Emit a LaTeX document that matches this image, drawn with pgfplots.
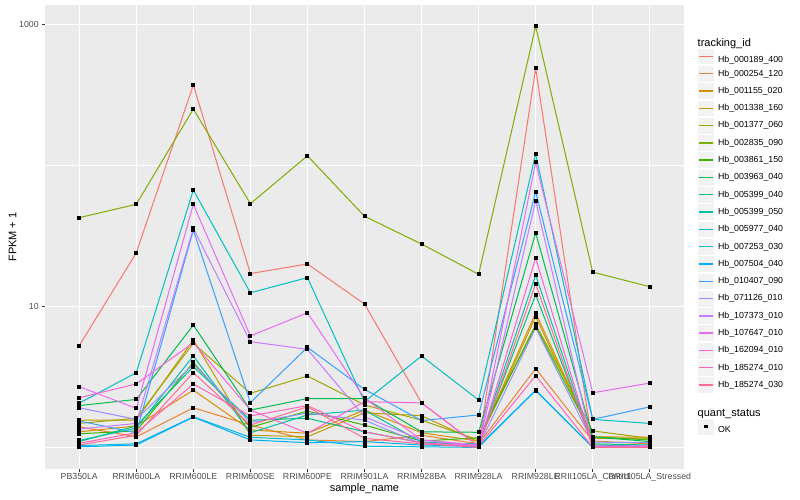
\documentclass[border=0pt]{standalone}
\usepackage{fontspec}
\setmainfont{Liberation Sans}
\usepackage{pgfplots}
\usepackage{pgfplotstable}
\pgfplotsset{compat=1.18}

% ggplot2 hue palette, 20 levels
\definecolor{c1}{HTML}{F8766D}
\definecolor{c2}{HTML}{EA8331}
\definecolor{c3}{HTML}{D89000}
\definecolor{c4}{HTML}{C09B00}
\definecolor{c5}{HTML}{A3A500}
\definecolor{c6}{HTML}{7CAE00}
\definecolor{c7}{HTML}{39B600}
\definecolor{c8}{HTML}{00BB4E}
\definecolor{c9}{HTML}{00BF7D}
\definecolor{c10}{HTML}{00C1A3}
\definecolor{c11}{HTML}{00BFC4}
\definecolor{c12}{HTML}{00BAE0}
\definecolor{c13}{HTML}{00B0F6}
\definecolor{c14}{HTML}{35A2FF}
\definecolor{c15}{HTML}{9590FF}
\definecolor{c16}{HTML}{C77CFF}
\definecolor{c17}{HTML}{E76BF3}
\definecolor{c18}{HTML}{FA62DB}
\definecolor{c19}{HTML}{FF62BC}
\definecolor{c20}{HTML}{FF6C91}
\definecolor{panel}{HTML}{EBEBEB}
\definecolor{keybg}{HTML}{F2F2F2}
\definecolor{grey30}{HTML}{4D4D4D}
\definecolor{grey20}{HTML}{333333}

% FPKM + 1, one row per sample, one column per tracking_id
\pgfplotstableread{
idx s1   s2   s3   s4   s5   s6   s7   s8   s9   s10  s11   s12  s13  s14  s15  s16  s17  s18  s19  s20
0   5.27 1.40 1.29 1.56 1.48 42.6 1.25 1.98 1.10 1.12 2.06  1.03 1.01 1.54 1.91 1.35 2.70 2.25 1.07 1.04
1   24.0 1.19 1.42 1.56 1.61 53.0 1.31 2.19 1.42 1.37 3.39  1.06 1.04 1.27 1.58 1.48 1.89 2.82 1.27 1.22
2   372  1.91 2.55 5.78 5.47 251  4.01 7.38 3.74 4.45 66.9  1.65 1.64 34.8 3.90 35.8 53.0 5.53 2.82 3.39
3   17.1 1.44 1.33 1.22 2.42 53.5 1.39 1.84 1.56 1.27 12.5  1.18 1.13 2.08 1.50 5.62 6.17 1.84 1.67 1.44
4   20.0 1.13 1.26 1.19 3.21 117  1.81 2.22 1.61 1.70 16.0  1.13 1.08 5.13 1.75 4.96 9.02 1.26 1.98 1.94
5   10.4 1.10 1.84 1.76 2.00 43.6 1.44 2.22 1.29 1.84 2.11  1.02 1.10 2.58 1.56 1.65 2.24 2.11 1.29 1.16
6   2.07 1.22 1.27 1.68 1.56 27.7 1.11 1.29 1.08 1.09 4.45  1.01 1.04 1.55 1.06 1.13 1.13 2.07 1.08 1.06
7   1.02 1.06 1.11 1.09 1.13 16.9 1.17 1.28 1.06 1.04 2.17  1.00 1.02 1.70 1.02 1.02 1.04 1.02 1.02 1.00
8   488  3.62 8.98 8.45 7.47 969  7.26 33.2 12.1 16.7 120.5 2.55 2.53 65.1 7.06 56.2 105  22.0 3.23 14.5
9   1.02 1.11 1.19 1.16 1.31 17.5 1.19 1.19 1.06 1.04 1.58  1.00 1.00 1.58 1.09 1.02 2.44 1.02 1.00 1.00
10  1.00 1.06 1.18 1.15 1.16 13.8 1.13 1.10 1.04 1.02 1.48  1.00 1.00 1.94 1.08 1.02 2.86 1.02 1.00 1.00
}\fpkm

\begin{document}
\begin{tikzpicture}
\begin{axis}[
    scale only axis,
    width=639bp, height=464bp,
    ymode=log,
    ymin=0.703, ymax=1373,
    xmin=-0.6, xmax=10.6,
    xtick={0,...,10},
    xticklabels={PB350LA, RRIM600LA, RRIM600LE, RRIM600SE, RRIM600PE, RRIM901LA,
                 RRIM928BA, RRIM928LA, RRIM928LE, RRII105LA\_Control, RRII105LA\_Stressed},
    ytick={10,1000}, yticklabels={10,1000},
    minor ytick={1,100},
    xmajorgrids, ymajorgrids, yminorgrids,
    major grid style={white, line width=1.07bp},
    minor grid style={white, line width=0.53bp},
    axis background/.style={fill=panel},
    axis line style={draw=none},
    tick align=outside, xtick pos=left, ytick pos=left,
    major tick length=2.75bp, minor tick length=0pt,
    tick style={grey20, line width=1.07bp},
    ticklabel style={font=\fontsize{8.8bp}{10bp}\selectfont, text=grey30},
    xticklabel style={yshift=2bp},
    xlabel={sample\_name}, ylabel={FPKM + 1},
    xlabel shift=-5bp, ylabel shift=-4bp,
    label style={font=\fontsize{11bp}{13bp}\selectfont},
    every axis plot/.append style={line width=1bp, mark=square*, mark size=1.5bp,
        mark options={black, fill=black, solid}},
    legend cell align=left,
    legend style={at={(1,1)}, anchor=north west, xshift=13bp, yshift=-33bp,
        draw=none, fill=none, inner sep=0pt, row sep=0pt, column sep=3.5bp,
        font=\fontsize{8.8bp}{10bp}\selectfont, nodes={inner sep=0pt}},
    legend image code/.code={
        \filldraw[fill=keybg, draw=white, line width=0.5bp] (0bp,-8.4bp) rectangle (16.8bp,8.4bp);
        \draw[#1, line width=1.4bp] (1.5bp,0bp) -- (15.3bp,0bp);},
]
\addlegendimage{empty legend}
\addlegendentry{\hspace*{-20.3bp}\fontsize{11bp}{13bp}\selectfont tracking\_id}
\addplot[c1]  table[x=idx, y=s1]  {\fpkm}; \addlegendentry{\rule{0pt}{13bp}Hb\_000189\_400}
\addplot[c2]  table[x=idx, y=s2]  {\fpkm}; \addlegendentry{Hb\_000254\_120}
\addplot[c3]  table[x=idx, y=s3]  {\fpkm}; \addlegendentry{Hb\_001155\_020}
\addplot[c4]  table[x=idx, y=s4]  {\fpkm}; \addlegendentry{Hb\_001338\_160}
\addplot[c5]  table[x=idx, y=s5]  {\fpkm}; \addlegendentry{Hb\_001377\_060}
\addplot[c6]  table[x=idx, y=s6]  {\fpkm}; \addlegendentry{Hb\_002835\_090}
\addplot[c7]  table[x=idx, y=s7]  {\fpkm}; \addlegendentry{Hb\_003861\_150}
\addplot[c8]  table[x=idx, y=s8]  {\fpkm}; \addlegendentry{Hb\_003963\_040}
\addplot[c9]  table[x=idx, y=s9]  {\fpkm}; \addlegendentry{Hb\_005399\_040}
\addplot[c10] table[x=idx, y=s10] {\fpkm}; \addlegendentry{Hb\_005399\_050}
\addplot[c11] table[x=idx, y=s11] {\fpkm}; \addlegendentry{Hb\_005977\_040}
\addplot[c12] table[x=idx, y=s12] {\fpkm}; \addlegendentry{Hb\_007253\_030}
\addplot[c13] table[x=idx, y=s13] {\fpkm}; \addlegendentry{Hb\_007504\_040}
\addplot[c14] table[x=idx, y=s14] {\fpkm}; \addlegendentry{Hb\_010407\_090}
\addplot[c15] table[x=idx, y=s15] {\fpkm}; \addlegendentry{Hb\_071126\_010}
\addplot[c16] table[x=idx, y=s16] {\fpkm}; \addlegendentry{Hb\_107373\_010}
\addplot[c17] table[x=idx, y=s17] {\fpkm}; \addlegendentry{Hb\_107647\_010}
\addplot[c18] table[x=idx, y=s18] {\fpkm}; \addlegendentry{Hb\_162094\_010}
\addplot[c19] table[x=idx, y=s19] {\fpkm}; \addlegendentry{Hb\_185274\_010}
\addplot[c20] table[x=idx, y=s20] {\fpkm}; \addlegendentry{Hb\_185274\_030}
\addlegendimage{empty legend}
\addlegendentry{\rule{0pt}{14bp}}
\addlegendimage{empty legend}
\addlegendentry{\hspace*{-20.3bp}\fontsize{11bp}{13bp}\selectfont quant\_status}
\addlegendimage{legend image code/.code={
    \filldraw[fill=keybg, draw=white, line width=0.5bp] (0bp,-8.4bp) rectangle (16.8bp,8.4bp);
    \fill[black] (7.1bp,-1.3bp) rectangle (9.7bp,1.3bp);}}
\addlegendentry{\rule{0pt}{13bp}OK}
\end{axis}
\pgfresetboundingbox
\useasboundingbox (-45bp,-31bp) rectangle (755bp,469bp);
\end{tikzpicture}
\end{document}
